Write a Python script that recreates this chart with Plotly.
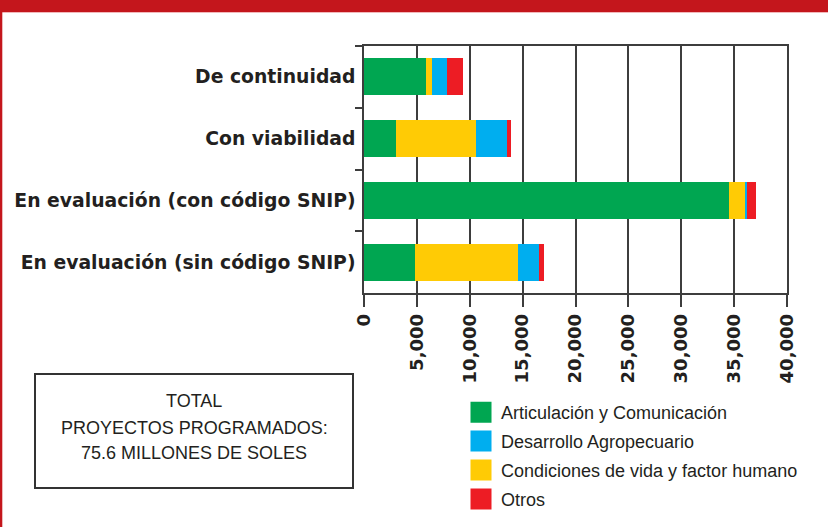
import plotly.graph_objects as go

categories = [
    "De continuidad",
    "Con viabilidad",
    "En evaluación (con código SNIP)",
    "En evaluación (sin código SNIP)",
]
articulacion = [5860, 3020, 34500, 4820]
condiciones = [570, 7560, 1510, 9740]
desarrollo = [1410, 2930, 190, 1990]
otros = [1520, 380, 850, 470]

series_names = [
    "Articulación y Comunicación",
    "Desarrollo Agropecuario",
    "Condiciones de vida y factor humano",
    "Otros",
]
x_ticks = [0, 5000, 10000, 15000, 20000, 25000, 30000, 35000, 40000]
x_tick_labels = ["0", "5,000", "10,000", "15,000", "20,000", "25,000", "30,000", "35,000", "40,000"]
box_lines = ["TOTAL", "PROYECTOS PROGRAMADOS:", "75.6 MILLONES DE SOLES"]

GREEN = "#00A651"
BLUE = "#00AEEF"
YELLOW = "#FFCB05"
RED = "#ED1C24"
DARK = "#231F20"
AXIS = "#3d3d3d"

fig = go.Figure()

# stacked bars (left-to-right order: green, yellow, blue, red)
for name, vals, col in [
    (series_names[0], articulacion, GREEN),
    (series_names[2], condiciones, YELLOW),
    (series_names[1], desarrollo, BLUE),
    (series_names[3], otros, RED),
]:
    fig.add_trace(go.Bar(
        y=categories, x=vals, orientation="h", name=name,
        marker=dict(color=col, line=dict(width=0)),
        showlegend=False, hoverinfo="x+name",
    ))

# legend entries (large square swatches)
for i, (name, col) in enumerate(zip(series_names, [GREEN, BLUE, YELLOW, RED])):
    fig.add_trace(go.Scatter(
        x=[None], y=[None], mode="markers", name=name,
        marker=dict(symbol="square", size=16, color=col, line=dict(color=col, width=5)),
        legendgroup="g%d" % i, legendrank=i + 1, showlegend=True,
    ))

L, R, T, B = 364, 41, 46, 234
W, H = 828, 527
pw = W - L - R
ph = H - T - B

def px_x(x):
    return (x - L) / pw

def px_y(y):
    return (H - B - y) / ph

fig.update_layout(
    width=W, height=H,
    margin=dict(l=L, r=R, t=T, b=B, pad=0, autoexpand=False),
    paper_bgcolor="white", plot_bgcolor="white",
    barmode="stack", bargap=0.4,
    font=dict(family="Liberation Sans, Arial, sans-serif", color=DARK),
    legend=dict(
        x=px_x(461), y=px_y(394), xanchor="left", yanchor="top",
        font=dict(family="Liberation Sans, Arial, sans-serif", size=18, color=DARK),
        traceorder="grouped", tracegroupgap=2.5,
        bgcolor="rgba(0,0,0,0)", borderwidth=0,
    ),
    xaxis=dict(
        range=[0, 40000], tickmode="array", tickvals=x_ticks, ticktext=x_tick_labels,
        tickangle=-90, ticks="outside", ticklen=12, tickwidth=1.5, tickcolor=AXIS,
        tickfont=dict(family="DejaVu Sans", size=18, color=DARK, weight="bold"),
        showgrid=True, gridcolor=AXIS, gridwidth=1.5,
        showline=True, linecolor=AXIS, linewidth=1.5, mirror=True,
        zeroline=False, fixedrange=True, automargin=False,
    ),
    yaxis=dict(
        categoryorder="array", categoryarray=categories, range=[3.5, -0.5],
        ticks="outside", tickson="boundaries", ticklen=7, tickwidth=1.5, tickcolor=AXIS,
        tickfont=dict(family="DejaVu Sans", size=18.8, color=DARK, weight="bold"),
        ticklabelstandoff=3,
        showgrid=False, showline=True, linecolor=AXIS, linewidth=1.5, mirror=True,
        zeroline=False, fixedrange=True, automargin=False,
    ),
)

# decorative page frame: red top band and left red rule
fig.add_shape(type="rect", xref="paper", yref="paper",
              x0=px_x(0), x1=px_x(W), y0=px_y(12), y1=px_y(0),
              fillcolor="#C4161C", line=dict(width=0), layer="above")
fig.add_shape(type="line", xref="paper", yref="paper",
              x0=px_x(0), x1=px_x(W), y0=px_y(12.5), y1=px_y(12.5),
              line=dict(color="#F2B8BA", width=1), layer="above")
fig.add_shape(type="rect", xref="paper", yref="paper",
              x0=px_x(0), x1=px_x(2.3), y0=px_y(H), y1=px_y(12),
              fillcolor="#C4161C", line=dict(width=0), layer="above")

# total box
fig.add_shape(type="rect", xref="paper", yref="paper",
              x0=px_x(35), x1=px_x(353), y0=px_y(488), y1=px_y(374),
              line=dict(color="#333333", width=2), fillcolor="rgba(0,0,0,0)")
for txt, yc in zip(box_lines, [401, 428, 453]):
    fig.add_annotation(xref="paper", yref="paper", x=px_x(194), y=px_y(yc),
                       xanchor="center", yanchor="middle", showarrow=False,
                       text=txt, font=dict(family="Liberation Sans, Arial, sans-serif",
                                           size=18, color=DARK))

post = (
    "document.documentElement.style.margin='0px';"
    "document.documentElement.style.padding='0px';"
    "document.documentElement.style.overflow='hidden';"
    "document.body.style.margin='0px';"
    "document.body.style.padding='0px';"
    "document.body.style.overflow='hidden';"
    "window.scrollTo(0,0);"
)
fig.write_html("out.html", post_script=post,
               config={"displayModeBar": False})
